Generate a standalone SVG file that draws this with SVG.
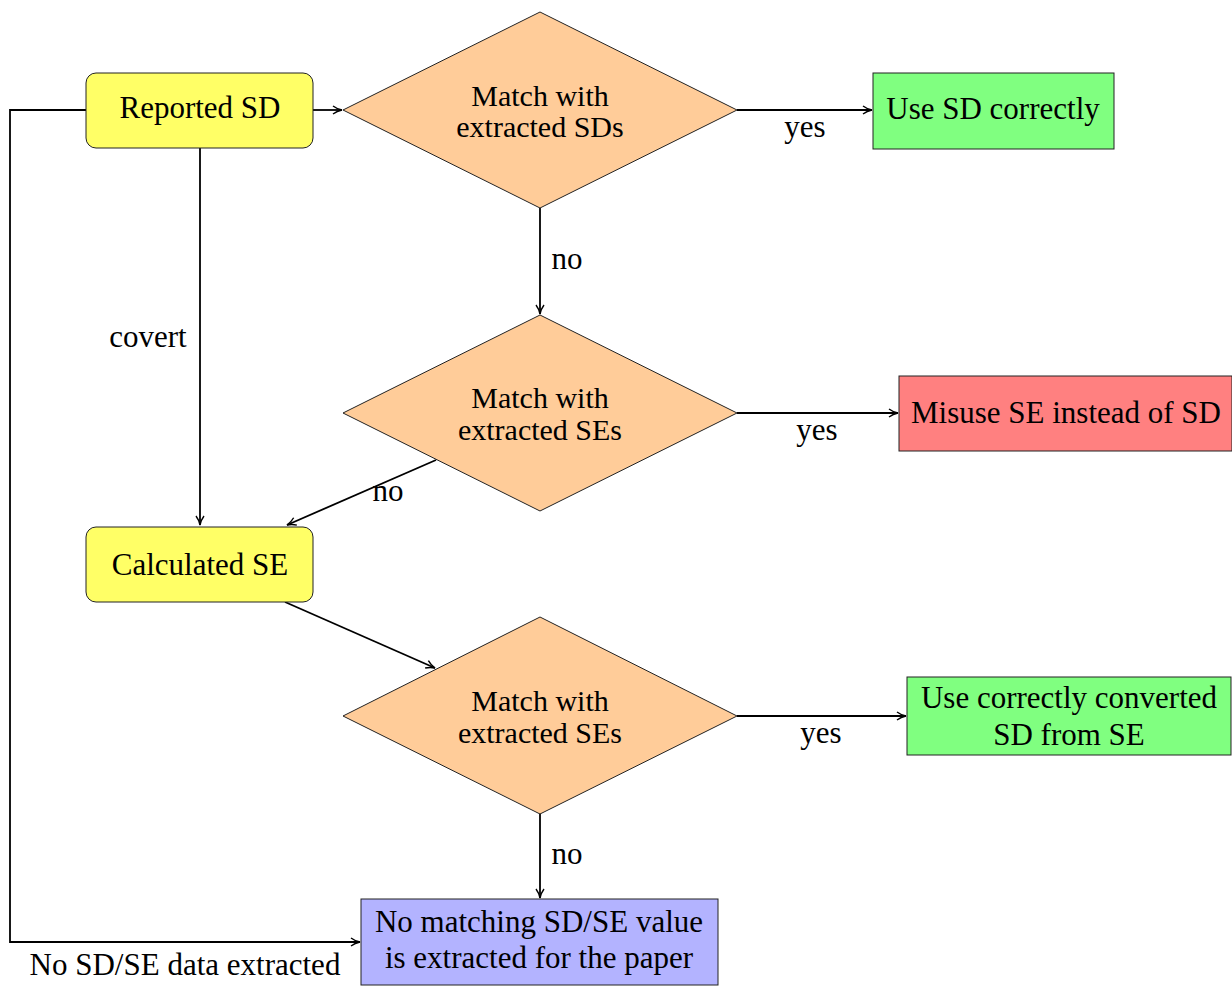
<svg xmlns="http://www.w3.org/2000/svg" width="1232" height="986" viewBox="0 0 1232 986">
<style>
text{font-family:"Liberation Serif","Times New Roman",serif;font-size:31px;fill:#000}
.c{text-anchor:middle}
.d{font-size:30px}
.n{stroke:#222;stroke-width:1}
.e{fill:none;stroke:#000;stroke-width:1.8}
</style>
<defs>
<marker id="a" markerWidth="12" markerHeight="10" refX="10" refY="5" orient="auto" markerUnits="userSpaceOnUse">
<path d="M1,1 Q5,4 10,5 Q5,6 1,9" fill="none" stroke="#000" stroke-width="1.4"/>
</marker>
</defs>
<g id="connectors">
<line class="e" x1="313" y1="110" x2="342" y2="110" marker-end="url(#a)"/>
<line class="e" x1="737" y1="110" x2="872" y2="110" marker-end="url(#a)"/>
<text class="c" x="805" y="137">yes</text>
<line class="e" x1="540" y1="208" x2="540" y2="314" marker-end="url(#a)"/>
<text class="c" x="567" y="269">no</text>
<line class="e" x1="737" y1="413" x2="898" y2="413" marker-end="url(#a)"/>
<text class="c" x="817" y="440">yes</text>
<line class="e" x1="436" y1="460" x2="287" y2="525" marker-end="url(#a)"/>
<text class="c" x="388" y="501">no</text>
<line class="e" x1="200" y1="148" x2="200" y2="525" marker-end="url(#a)"/>
<text class="c" x="148" y="347">covert</text>
<line class="e" x1="285" y1="602" x2="435" y2="668" marker-end="url(#a)"/>
<line class="e" x1="737" y1="716" x2="906" y2="716" marker-end="url(#a)"/>
<text class="c" x="821" y="743">yes</text>
<line class="e" x1="540" y1="813" x2="540" y2="898" marker-end="url(#a)"/>
<text class="c" x="567" y="864">no</text>
<polyline class="e" points="86,110 10,110 10,942 360,942" marker-end="url(#a)"/>
<text class="c" x="185" y="975">No SD/SE data extracted</text>
</g>
<g id="reported-sd">
<rect class="n" x="86" y="73" width="227" height="75" rx="10" fill="#ffff66"/>
<text class="c" x="200" y="118">Reported SD</text>
</g>
<g id="match-sds">
<polygon class="n" points="540,12 737,110 540,208 343,110" fill="#ffcc99"/>
<text class="c d" x="540" y="106">Match with</text>
<text class="c d" x="540" y="137">extracted SDs</text>
</g>
<g id="use-sd">
<rect class="n" x="873" y="73" width="241" height="76" fill="#80ff80"/>
<text class="c" x="993" y="119">Use SD correctly</text>
</g>
<g id="match-ses-1">
<polygon class="n" points="540,315 737,413 540,511 343,413" fill="#ffcc99"/>
<text class="c d" x="540" y="408">Match with</text>
<text class="c d" x="540" y="440">extracted SEs</text>
</g>
<g id="misuse">
<rect class="n" x="899" y="376" width="333" height="75" fill="#ff8080"/>
<text class="c" x="1066" y="423">Misuse SE instead of SD</text>
</g>
<g id="calculated-se">
<rect class="n" x="86" y="527" width="227" height="75" rx="10" fill="#ffff66"/>
<text class="c" x="200" y="575">Calculated SE</text>
</g>
<g id="match-ses-2">
<polygon class="n" points="540,617 737,716 540,814 343,716" fill="#ffcc99"/>
<text class="c d" x="540" y="711">Match with</text>
<text class="c d" x="540" y="743">extracted SEs</text>
</g>
<g id="use-converted">
<rect class="n" x="907" y="677" width="324" height="78" fill="#80ff80"/>
<text class="c" x="1069" y="708">Use correctly converted</text>
<text class="c" x="1069" y="745">SD from SE</text>
</g>
<g id="no-matching">
<rect class="n" x="361" y="899" width="357" height="86" fill="#b3b3ff"/>
<text class="c" x="539" y="932">No matching SD/SE value</text>
<text class="c" x="539" y="968">is extracted for the paper</text>
</g>
</svg>
